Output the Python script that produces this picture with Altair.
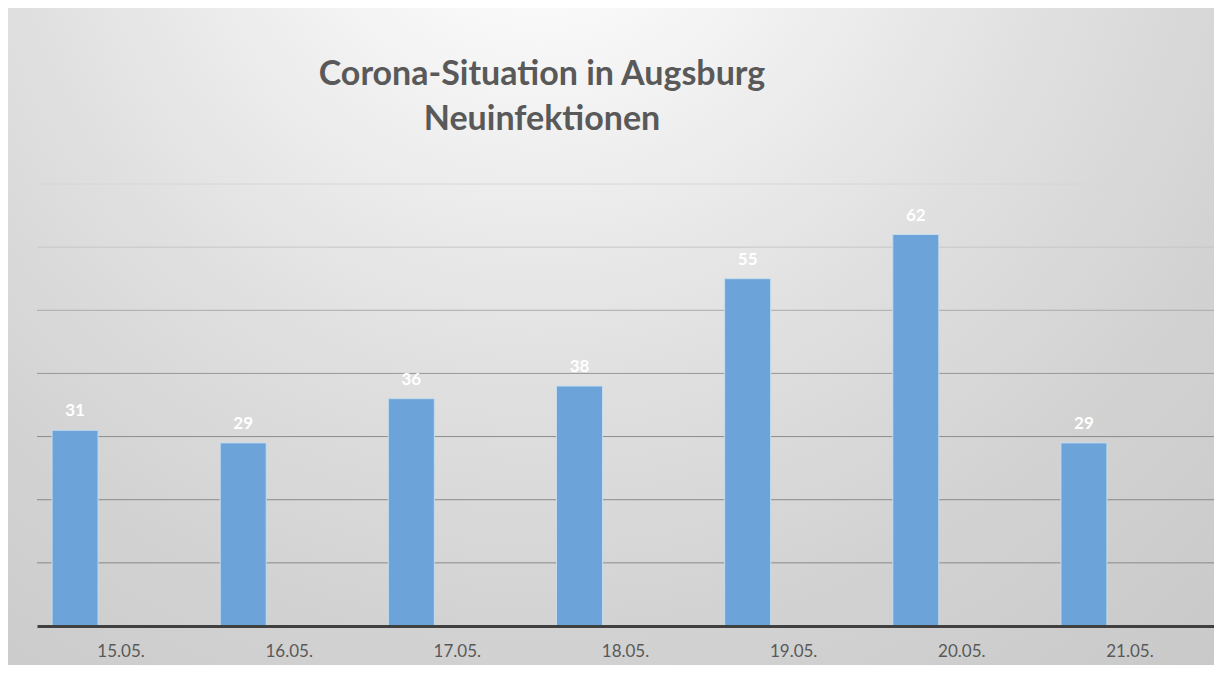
import altair as alt
import pandas as pd

dates = ["15.05.", "16.05.", "17.05.", "18.05.", "19.05.", "20.05.", "21.05."]
values = [31, 29, 36, 38, 55, 62, 29]
grid_ticks = [10, 20, 30, 40, 50, 60, 70]
title_lines = ["Corona-Situation in Augsburg", "Neuinfektionen"]

df = pd.DataFrame({"Datum": dates, "Neuinfektionen": values})
grid_df = pd.DataFrame({"tick": grid_ticks})

W, H = 1177, 442
PAD = {"left": 29, "top": 176, "right": 0, "bottom": 39}

bg_gradient = {
    "gradient": "radial",
    "x1": 0.44, "y1": 0.1, "x2": 0.44, "y2": 0.1,
    "r1": 0, "r2": 1.0,
    "stops": [
        {"offset": 0.0, "color": "#ffffff"},
        {"offset": 0.14, "color": "#f8f8f8"},
        {"offset": 0.45, "color": "#dfdfdf"},
        {"offset": 0.65, "color": "#d2d2d2"},
        {"offset": 1.0, "color": "#c4c4c4"},
    ],
}

background = alt.Chart(pd.DataFrame({"k": [0]})).mark_rect(
    fill=bg_gradient, clip=False
).encode(
    x=alt.value(-PAD["left"]),
    x2=alt.value(W + PAD["right"]),
    y=alt.value(-PAD["top"]),
    y2=alt.value(H + PAD["bottom"]),
)

y_scale = alt.Scale(domain=[0, 70], nice=False)

grid = alt.Chart(grid_df).mark_rule(strokeWidth=1).encode(
    y=alt.Y("tick:Q", scale=y_scale, axis=None),
    color=alt.Color("tick:Q", scale=alt.Scale(
        domain=[10, 30, 40, 50, 60, 70],
        range=["#8a8a8a", "#8c8c8c", "#989898", "#aaaaaa", "#c6c6c6", "#d6d6d6"]),
        legend=None),
)

x_enc = alt.X(
    "Datum:N",
    sort=dates,
    scale=alt.Scale(paddingInner=0, paddingOuter=0),
    axis=alt.Axis(
        title=None,
        labelAngle=0,
        labelFont="Lato",
        labelFontSize=17,
        labelColor="#595959",
        labelPadding=17,
        ticks=False,
        domainColor="#404040",
        domainWidth=3,
        zindex=1,
    ),
)

bars = alt.Chart(df).mark_bar(
    width=46, xOffset=-46, color="#6ca3d8", stroke="#c5dcf0", strokeWidth=1
).encode(
    x=x_enc,
    y=alt.Y("Neuinfektionen:Q", scale=y_scale, axis=None),
)

labels = alt.Chart(df).mark_text(
    xOffset=-46, dy=-14, baseline="alphabetic", align="center",
    font="Lato", fontSize=17, fontWeight="bold", color="#ffffff"
).encode(
    x=alt.X("Datum:N", sort=dates),
    y=alt.Y("Neuinfektionen:Q", scale=y_scale),
    text="Neuinfektionen:Q",
)

title_style = dict(font="Lato", fontSize=34, fontWeight="bold", color="#595959",
                   align="center", baseline="alphabetic", clip=False)
title1 = alt.Chart(pd.DataFrame({"k": [0]})).mark_text(
    text=title_lines[0], **title_style
).encode(x=alt.value(505), y=alt.value(-99))
title2 = alt.Chart(pd.DataFrame({"k": [0]})).mark_text(
    text=title_lines[1], **title_style
).encode(x=alt.value(505), y=alt.value(-54))

chart = alt.layer(background, grid, bars, labels, title1, title2).resolve_scale(
    color="independent"
).properties(
    width=W,
    height=H,
    padding=PAD,
    autosize=alt.AutoSizeParams(type="none"),
).configure_view(stroke=None).configure(background="#ffffff")

chart.save("out.html", embed_options={"renderer": "svg", "actions": False})
